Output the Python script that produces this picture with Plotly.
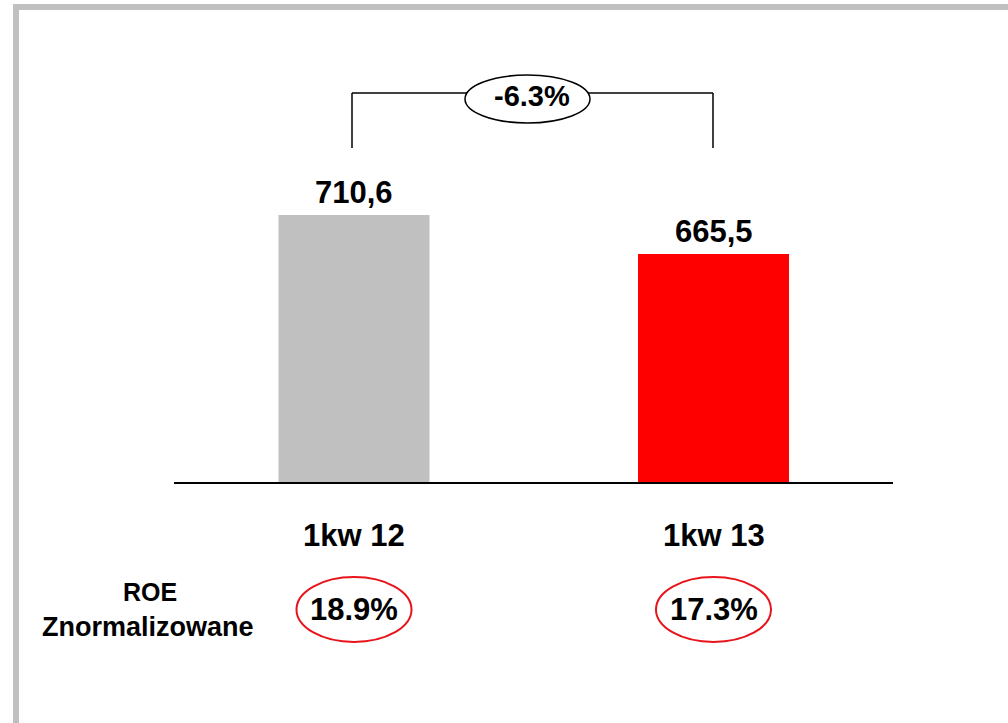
import plotly.graph_objects as go

# ---- data ----
categories = ["1kw 12", "1kw 13"]
values = [710.6, 665.5]
value_labels = ["710,6", "665,5"]
roe_values = ["18.9%", "17.3%"]
roe_title = ["ROE", "Znormalizowane"]
change_label = "-6.3%"
bar_colors = ["#c0c0c0", "#ff0000"]

W, H = 1008, 723
FONT = "Arial, Liberation Sans, sans-serif"


def px(x):
    return x / W


def py(y):
    return 1 - y / H


fig = go.Figure(
    go.Bar(
        x=categories,
        y=values,
        marker_color=bar_colors,
        marker_line_width=0,
        width=0.42,
        hoverinfo="skip",
    )
)

annotations = []
# value labels above bars
for c, v, t in zip(categories, values, value_labels):
    annotations.append(dict(x=c, y=v, xref="x", yref="y", text=t, showarrow=False,
                            yanchor="bottom", yshift=3,
                            font=dict(family=FONT, size=31, color="black", weight="bold")))
# category labels
for c in categories:
    annotations.append(dict(x=c, y=py(535), xref="x", yref="paper", text=c, showarrow=False,
                            yanchor="middle",
                            font=dict(family=FONT, size=31, color="black", weight="bold")))
# ROE values
for c, r in zip(categories, roe_values):
    annotations.append(dict(x=c, y=py(609), xref="x", yref="paper", text=r, showarrow=False,
                            yanchor="middle",
                            font=dict(family=FONT, size=31, color="black", weight="bold")))
# ROE title
annotations.append(dict(x=px(150), y=py(592), xref="paper", yref="paper", text=roe_title[0],
                        showarrow=False, xanchor="center", yanchor="middle",
                        font=dict(family=FONT, size=25, color="black", weight="bold")))
annotations.append(dict(x=px(148), y=py(627), xref="paper", yref="paper", text=roe_title[1],
                        showarrow=False, xanchor="center", yanchor="middle",
                        font=dict(family=FONT, size=27, color="black", weight="bold")))
# change label
annotations.append(dict(x=px(532), y=py(96), xref="paper", yref="paper", text=change_label,
                        showarrow=False, xanchor="center", yanchor="middle",
                        font=dict(family=FONT, size=29, color="black", weight="bold")))

shapes = []
# grey frame
shapes.append(dict(type="line", xref="paper", yref="paper", x0=px(16), x1=px(16), y0=py(4), y1=py(740),
                   line=dict(color="#c0c0c0", width=6)))
shapes.append(dict(type="line", xref="paper", yref="paper", x0=px(13), x1=px(1030), y0=py(7), y1=py(7),
                   line=dict(color="#c0c0c0", width=6)))
# bracket
shapes.append(dict(type="line", xref="paper", yref="paper", x0=px(352), x1=px(352), y0=py(93), y1=py(148),
                   line=dict(color="black", width=1.5)))
shapes.append(dict(type="line", xref="paper", yref="paper", x0=px(713), x1=px(713), y0=py(93), y1=py(148),
                   line=dict(color="black", width=1.5)))
shapes.append(dict(type="line", xref="paper", yref="paper", x0=px(352), x1=px(713), y0=py(93), y1=py(93),
                   line=dict(color="black", width=1.5)))
shapes.append(dict(type="circle", xref="paper", yref="paper", x0=px(465), x1=px(590), y0=py(75), y1=py(123),
                   line=dict(color="black", width=1.5), fillcolor="white"))
# ROE ellipses
for i in range(len(categories)):
    shapes.append(dict(type="circle", xref="x", yref="paper", x0=i - 0.16, x1=i + 0.16,
                       y0=py(577), y1=py(642), line=dict(color="#e8141b", width=2)))

fig.update_layout(
    width=W,
    height=H,
    margin=dict(l=0, r=0, t=0, b=0),
    paper_bgcolor="white",
    plot_bgcolor="rgba(0,0,0,0)",
    showlegend=False,
    xaxis=dict(domain=[px(174.25), px(893.25)], range=[-0.5, 1.5], showticklabels=False,
               ticks="", showgrid=False, zeroline=False, showline=True, linecolor="black",
               linewidth=2, fixedrange=True),
    yaxis=dict(domain=[py(482), 1], range=[402, 402 + 482 / 0.8652], visible=False,
               showgrid=False, zeroline=False, fixedrange=True),
    annotations=annotations,
    shapes=shapes,
)

fig.write_html(
    "out.html",
    config={"displayModeBar": False},
    post_script="document.body.style.margin='0';document.body.style.overflow='hidden';",
)
